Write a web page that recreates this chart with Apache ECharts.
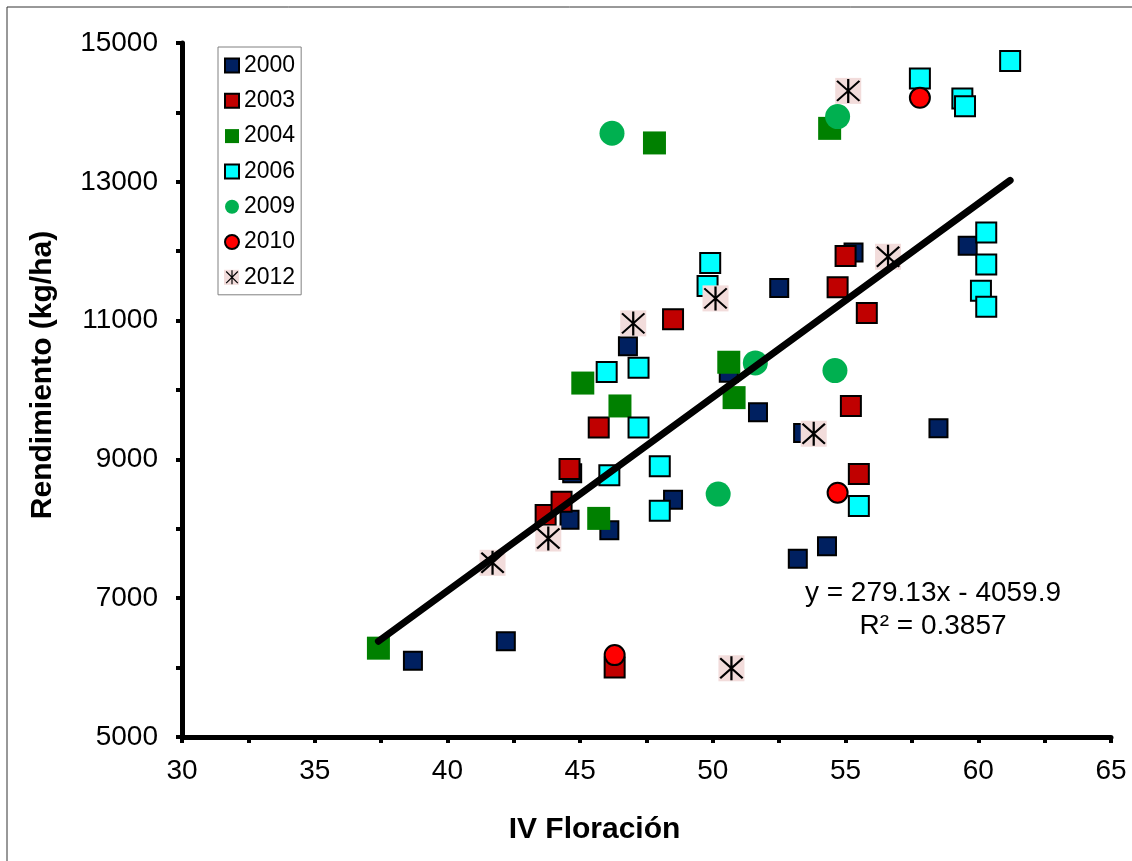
<!DOCTYPE html>
<html>
<head>
<meta charset="utf-8">
<script src="https://cdn.jsdelivr.net/npm/echarts@6/dist/echarts.min.js"></script>
<style>
	html, body { margin: 0; padding: 0; background: #fff; }
	#chart { width: 1132px; height: 861px; }
</style>
</head>
<body>
<div id="chart"></div>
<script>
// values
const x2000 = [38.7, 42.2, 44.6, 44.7, 46.1, 46.8, 48.5, 50.6, 51.7, 52.5, 53.2, 53.4, 54.3, 55.3, 58.5, 59.6];
const y2000 = [6100, 6380, 8130, 8800, 7980, 10630, 8420, 10250, 9680, 11470, 7570, 9380, 7750, 11980, 9450, 12080];

const x2003 = [43.7, 44.3, 44.6, 45.7, 46.3, 48.5, 54.7, 55.0, 55.2, 55.5, 55.8];
const y2003 = [8200, 8390, 8860, 9460, 6000, 11020, 11480, 11930, 9770, 8790, 11110];

const x2004 = [37.4, 45.1, 45.7, 46.5, 47.8, 50.6, 50.8, 54.4];
const y2004 = [6280, 10100, 8150, 9770, 13560, 10400, 9890, 13770];

const x2006 = [46.0, 46.1, 47.2, 47.2, 48.0, 48.0, 49.8, 49.9, 55.5, 57.8, 59.4, 59.5, 60.1, 60.3, 60.3, 60.3, 61.2];
const y2006 = [10260, 8770, 10320, 9460, 8900, 8260, 11500, 11830, 8330, 14490, 14200, 14090, 11430, 12270, 11810, 11200, 14740];

const x2009 = [46.2, 50.2, 51.6, 54.6, 54.7];
const y2009 = [13700, 8500, 10390, 10280, 13940];

const x2010 = [46.3, 54.7, 57.8];
const y2010 = [6180, 8520, 14210];

const x2012 = [41.7, 43.8, 47.0, 50.1, 50.7, 53.8, 55.1, 56.6];
const y2012 = [7510, 7860, 10960, 11320, 5990, 9370, 14310, 11920];

// trend line ends (y = 279.13x - 4059.9)
const trendX = [37.4, 61.2];
const trendY = [6380, 13020];

const yearNames = ['2000', '2003', '2004', '2006', '2009', '2010', '2012'];
const eqLines = ['y = 279.13x - 4059.9', 'R² = 0.3857'];

const xTicks = { min: 30, max: 65, step: 5 };
const yTicks = { min: 5000, max: 15000, step: 2000 };

var font = 'Liberation Sans, Arial, sans-serif';
var star = 'path://M11 0 L13 0 L13 24 L11 24 Z M1.3 2.7 L2.7 1.3 L22.7 21.3 L21.3 22.7 Z M21.3 1.3 L22.7 2.7 L2.7 22.7 L1.3 21.3 Z';

function pairs(xs, ys) {
	return xs.map(function(v, i) {
		return [v, ys[i]];
	});
}

function squareSeries(name, xs, ys, color, size, border) {
	return {
		name: name,
		type: 'scatter',
		symbol: 'rect',
		symbolSize: size,
		data: pairs(xs, ys),
		itemStyle: {
			color: color,
			borderColor: border ? '#000' : color,
			borderWidth: border ? 2 : 0,
			opacity: 1,
		},
	};
}

var series = [
	squareSeries('2000', x2000, y2000, '#002060', 18, true),
	squareSeries('2003', x2003, y2003, '#C00000', 20, true),
	squareSeries('2004', x2004, y2004, '#008000', 23, false),
	squareSeries('2006', x2006, y2006, '#00FFFF', 20, true),
	{
		name: '2009',
		type: 'scatter',
		symbol: 'circle',
		symbolSize: 25,
		data: pairs(x2009, y2009),
		itemStyle: { color: '#00B050', opacity: 1 },
	},
	{
		name: '2010',
		type: 'scatter',
		symbol: 'circle',
		symbolSize: 20,
		data: pairs(x2010, y2010),
		itemStyle: { color: '#FF0000', borderColor: '#000', borderWidth: 2, opacity: 1 },
	},
	// pink box behind the 2012 stars
	{
		name: '2012 fondo',
		type: 'scatter',
		symbol: 'rect',
		symbolSize: 26,
		data: pairs(x2012, y2012),
		itemStyle: { color: '#F2DCDB', opacity: 1 },
		silent: true,
	},
	{
		name: '2012',
		type: 'scatter',
		symbol: star,
		symbolSize: 24,
		data: pairs(x2012, y2012),
		itemStyle: { color: '#000', opacity: 1 },
	},
	{
		name: 'tendencia',
		type: 'line',
		data: pairs(trendX, trendY),
		symbol: 'none',
		lineStyle: { color: '#000', width: 7, cap: 'round' },
		silent: true,
		z: 5,
	},
];

// legend layout (pink box is placed under the 2012 icon)
var leg = { left: 218, top: 47, padTop: 7, pad: 6, row: 23, gap: 12.3 };
var starRowY = leg.top + leg.padTop + 6 * (leg.row + leg.gap) + leg.row / 2;

var axisLineStyle = { color: '#000', width: 5 };
var tickStyle = { color: '#000', width: 4 };

var option = {
	animation: false,
	backgroundColor: '#fff',
	grid: { left: 182, right: 21, top: 43, bottom: 124 },
	legend: {
		data: yearNames,
		orient: 'vertical',
		left: leg.left,
		top: leg.top,
		padding: [leg.padTop, leg.pad, leg.pad, leg.pad],
		itemGap: leg.gap,
		itemWidth: 14,
		itemHeight: 14,
		borderColor: '#808080',
		borderWidth: 1,
		backgroundColor: 'transparent',
		textStyle: { fontFamily: font, fontSize: 23, color: '#000', lineHeight: leg.row },
	},
	xAxis: {
		type: 'value',
		min: xTicks.min,
		max: xTicks.max,
		interval: xTicks.step,
		name: 'IV Floración',
		nameLocation: 'middle',
		nameGap: 78,
		nameTextStyle: {
			fontFamily: font,
			fontSize: 30,
			fontWeight: 'bold',
			color: '#000',
			padding: [0, 104, 0, 0],
		},
		axisLine: { show: true, onZero: false, lineStyle: axisLineStyle },
		axisTick: { show: true, inside: false, length: 6, lineStyle: tickStyle },
		minorTick: { show: true, splitNumber: 2, length: 6, lineStyle: tickStyle },
		splitLine: { show: false },
		axisLabel: { fontFamily: font, fontSize: 28, color: '#000', margin: 20 },
	},
	yAxis: {
		type: 'value',
		min: yTicks.min,
		max: yTicks.max,
		interval: yTicks.step,
		name: 'Rendimiento (kg/ha)',
		nameLocation: 'middle',
		nameRotate: 90,
		nameGap: 124,
		nameTextStyle: {
			fontFamily: font,
			fontSize: 30,
			fontWeight: 'bold',
			color: '#000',
			padding: [0, 0, 0, 30],
		},
		axisLine: { show: true, onZero: false, lineStyle: axisLineStyle },
		axisTick: { show: true, inside: false, length: 6, lineStyle: tickStyle },
		minorTick: { show: true, splitNumber: 2, length: 6, lineStyle: tickStyle },
		splitLine: { show: false },
		axisLabel: {
			fontFamily: font,
			fontSize: 28,
			color: '#000',
			margin: 24,
			formatter: function(v) {
				return String(v);
			},
		},
	},
	graphic: [
		// outer frame (only left and top edges show)
		{ type: 'line', shape: { x1: 7, y1: 7, x2: 1132, y2: 7 }, style: { stroke: '#333', lineWidth: 1 }, silent: true },
		{ type: 'line', shape: { x1: 7, y1: 7, x2: 7, y2: 861 }, style: { stroke: '#333', lineWidth: 1 }, silent: true },
		{
			type: 'rect',
			shape: { x: leg.left + leg.pad, y: starRowY - 7.5, width: 15, height: 15 },
			style: { fill: '#F2DCDB' },
			z: 1,
			silent: true,
		},
		{
			type: 'text',
			x: 933,
			y: 593,
			style: { text: eqLines[0], fill: '#000', font: '28px ' + font, textAlign: 'center', textVerticalAlign: 'middle' },
			z: 10,
		},
		{
			type: 'text',
			x: 933,
			y: 626,
			style: { text: eqLines[1], fill: '#000', font: '28px ' + font, textAlign: 'center', textVerticalAlign: 'middle' },
			z: 10,
		},
	],
	series: series,
};

var chart = echarts.init(document.getElementById('chart'));
chart.setOption(option);
</script>
</body>
</html>
